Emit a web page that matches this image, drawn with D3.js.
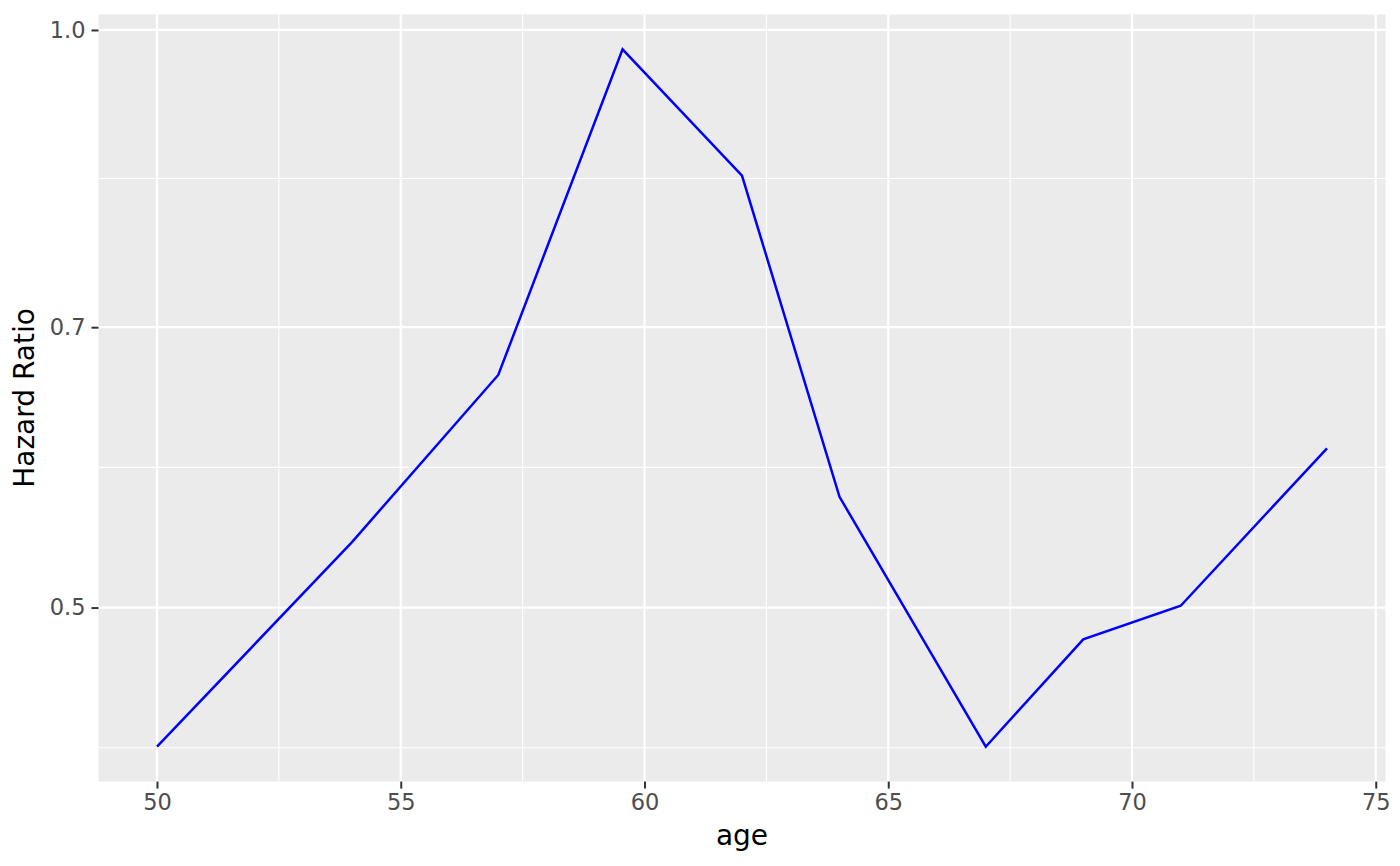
<!DOCTYPE html>
<html>
<head>
<meta charset="utf-8">
<script src="https://cdn.jsdelivr.net/npm/d3@7"></script>
<style>
  html, body { margin: 0; padding: 0; background: #ffffff; }
  svg { display: block; }
  text { font-family: "DejaVu Sans", sans-serif; }
</style>
</head>
<body>
<svg id="chart" width="1400" height="866"></svg>
<script>
// ---- data ----
const ages = [50, 54, 57, 59.55, 62, 64, 67, 69, 71, 74];
const hazardRatio = [0.4231, 0.5409, 0.6610, 0.9771, 0.8396, 0.5711, 0.4231, 0.4813, 0.5011, 0.6053];
const xTicks = [50, 55, 60, 65, 70, 75];
const xMinorTicks = [52.5, 57.5, 62.5, 67.5, 72.5];
const yTicks = [0.5, 0.7, 1.0];
const yTickLabels = ["0.5", "0.7", "1.0"];
const yMinorTicks = [0.4226, 0.5916, 0.8367];
const xTitle = "age";
const yTitle = "Hazard Ratio";

// ---- layout ----
const panel = { left: 98.5, right: 1385.5, top: 14.4, bottom: 781.6 };
const svg = d3.select("#chart");

// x scale with ggplot-like 5% expansion
const xMin = d3.min(ages), xMax = d3.max(ages);
const xPad = (xMax - xMin) * 0.05;
const x = d3.scaleLinear().domain([xMin - xPad, xMax + xPad]).range([panel.left, panel.right]);

// y log scale with 5% expansion in log space
const lMin = Math.log(d3.min(hazardRatio)), lMax = Math.log(d3.max(hazardRatio));
const lPad = (lMax - lMin) * 0.05;
const y = d3.scaleLog().domain([Math.exp(lMin - lPad), Math.exp(lMax + lPad)]).range([panel.bottom, panel.top]);

// panel background
svg.append("rect")
  .attr("x", panel.left).attr("y", panel.top)
  .attr("width", panel.right - panel.left).attr("height", panel.bottom - panel.top)
  .attr("fill", "#EBEBEB");

const grid = svg.append("g");
// minor gridlines
grid.selectAll(".xminor").data(xMinorTicks).enter().append("line")
  .attr("x1", d => x(d)).attr("x2", d => x(d))
  .attr("y1", panel.top).attr("y2", panel.bottom)
  .attr("stroke", "#ffffff").attr("stroke-width", 1.1);
grid.selectAll(".yminor").data(yMinorTicks).enter().append("line")
  .attr("y1", d => y(d)).attr("y2", d => y(d))
  .attr("x1", panel.left).attr("x2", panel.right)
  .attr("stroke", "#ffffff").attr("stroke-width", 1.1);
// major gridlines
grid.selectAll(".xmajor").data(xTicks).enter().append("line")
  .attr("x1", d => x(d)).attr("x2", d => x(d))
  .attr("y1", panel.top).attr("y2", panel.bottom)
  .attr("stroke", "#ffffff").attr("stroke-width", 2.2);
grid.selectAll(".ymajor").data(yTicks).enter().append("line")
  .attr("y1", d => y(d)).attr("y2", d => y(d))
  .attr("x1", panel.left).attr("x2", panel.right)
  .attr("stroke", "#ffffff").attr("stroke-width", 2.2);

// line
const line = d3.line().x((d, i) => x(ages[i])).y(d => y(d));
svg.append("path")
  .datum(hazardRatio)
  .attr("d", line)
  .attr("fill", "none")
  .attr("stroke", "#0000FF")
  .attr("stroke-width", 2.5)
  .attr("stroke-linejoin", "miter");

// x axis
const xAxis = d3.axisBottom(x).tickValues(xTicks).tickSize(7).tickPadding(5).tickFormat(d3.format("d"));
const gx = svg.append("g").attr("transform", `translate(0,${panel.bottom})`).call(xAxis);
gx.select(".domain").remove();
gx.selectAll(".tick line").attr("stroke", "#333333").attr("stroke-width", 2);
gx.selectAll(".tick text").attr("fill", "#4D4D4D").style("font-size", "22.5px")
  .style("font-family", "'DejaVu Sans', sans-serif");

// y axis
const yAxis = d3.axisLeft(y).tickValues(yTicks).tickSize(7).tickPadding(6)
  .tickFormat((d, i) => yTickLabels[i]);
const gy = svg.append("g").attr("transform", `translate(${panel.left},0)`).call(yAxis);
gy.select(".domain").remove();
gy.selectAll(".tick line").attr("stroke", "#333333").attr("stroke-width", 2);
gy.selectAll(".tick text").attr("fill", "#4D4D4D").style("font-size", "22.5px")
  .style("font-family", "'DejaVu Sans', sans-serif");

// axis titles
svg.append("text")
  .attr("x", (panel.left + panel.right) / 2).attr("y", 845)
  .attr("text-anchor", "middle").attr("fill", "#000000")
  .style("font-size", "28px")
  .text(xTitle);
svg.append("text")
  .attr("transform", `translate(33.5,${(panel.top + panel.bottom) / 2}) rotate(-90)`)
  .attr("text-anchor", "middle").attr("fill", "#000000")
  .style("font-size", "28px")
  .text(yTitle);
</script>
</body>
</html>
